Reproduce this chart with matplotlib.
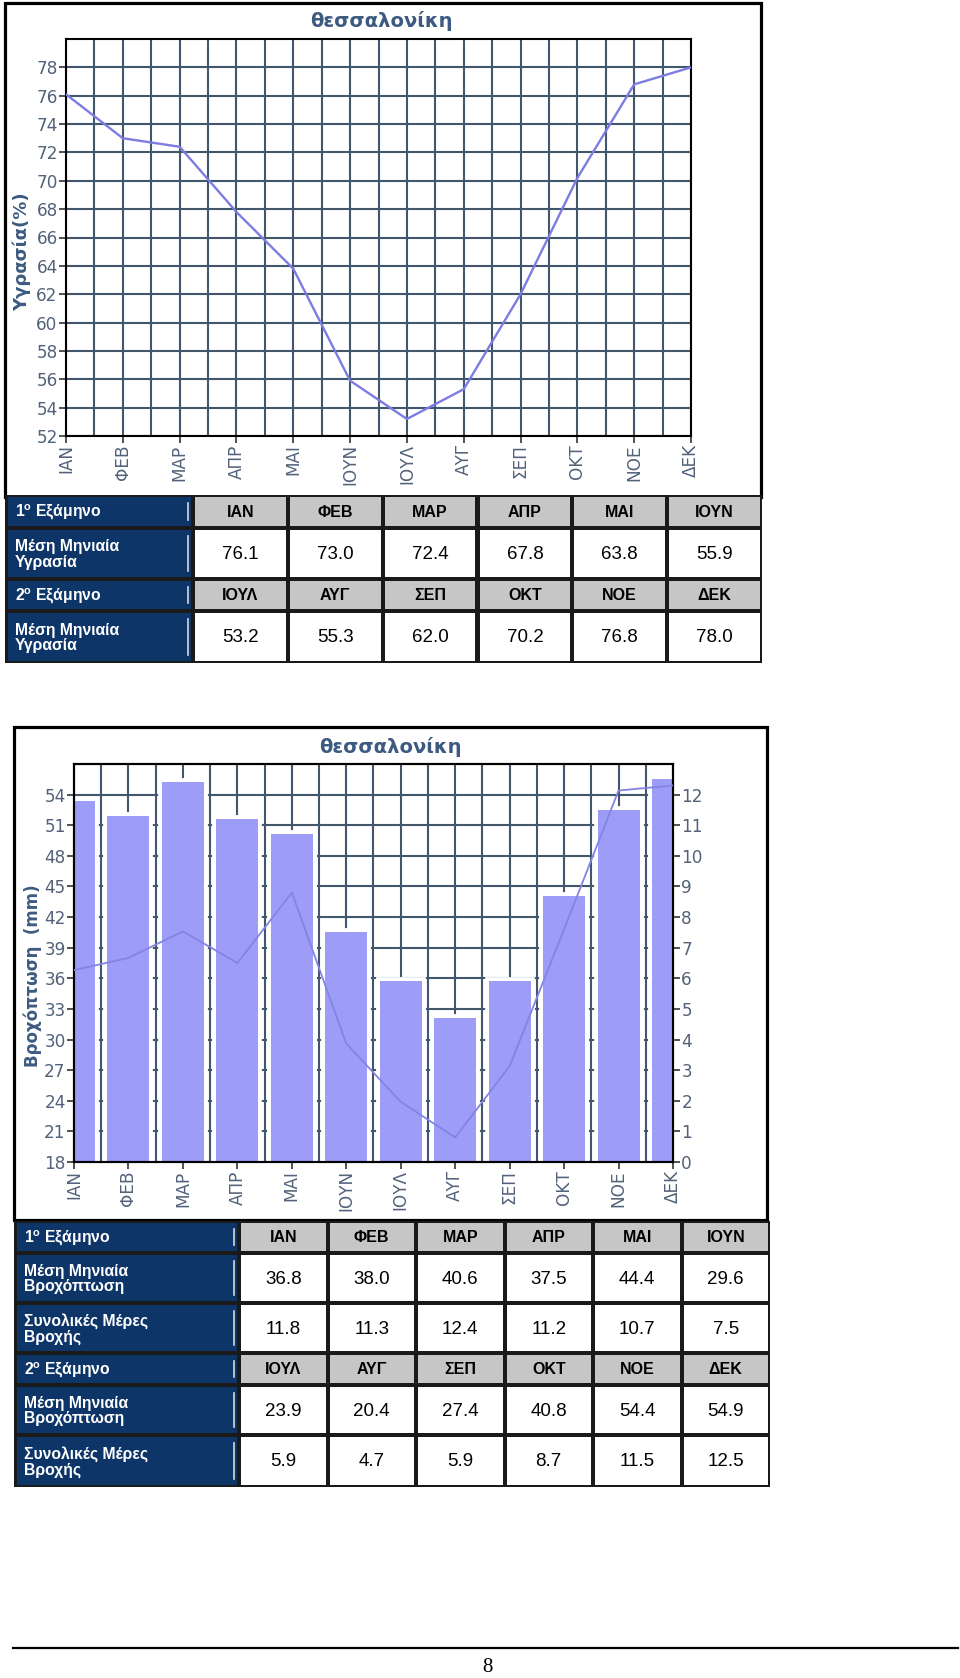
import matplotlib
matplotlib.use("Agg")
import matplotlib.pyplot as plt
from matplotlib.patches import Rectangle
import matplotlib.patheffects as pe
import numpy as np

# ---------------- data ----------------
months = ['ΙΑΝ', 'ΦΕΒ', 'ΜΑΡ', 'ΑΠΡ', 'ΜΑΙ', 'ΙΟΥΝ',
          'ΙΟΥΛ', 'ΑΥΓ', 'ΣΕΠ', 'ΟΚΤ', 'ΝΟΕ', 'ΔΕΚ']
humidity = [76.1, 73.0, 72.4, 67.8, 63.8, 55.9, 53.2, 55.3, 62.0, 70.2, 76.8, 78.0]
rain_mm = [36.8, 38.0, 40.6, 37.5, 44.4, 29.6, 23.9, 20.4, 27.4, 40.8, 54.4, 54.9]
rain_days = [11.8, 11.3, 12.4, 11.2, 10.7, 7.5, 5.9, 4.7, 5.9, 8.7, 11.5, 12.5]
humidity_ticks = list(range(52, 80, 2))
rain_mm_ticks = list(range(18, 57, 3))
rain_days_ticks = list(range(0, 13))
chart_title = 'θεσσαλονίκη'
humidity_label = 'Υγρασία(%)'
rain_label = 'Βροχόπτωση  (mm)'
half_labels = ['1$^\\mathregular{o}$ Εξάμηνο', '2$^\\mathregular{o}$ Εξάμηνο']
row_humidity = 'Μέση Μηνιαία\nΥγρασία'
row_rain = 'Μέση Μηνιαία\nΒροχόπτωση'
row_days = 'Συνολικές Μέρες\nΒροχής'
page_number = '8'

# ---------------- style ----------------
W, H = 960, 1678
NAVY = '#0e3568'
HEAD = '#c6c6c6'
BORDER = '#1a1a1a'
GRID = '#42566c'
TICKTXT = '#52627a'
TITLE = '#3d5a80'
LINE = '#7c7ce2'
BAR = '#9d9df7'
TICK_FONT = dict(family=['DejaVu Sans'], size=12.2)
NARROW = ['Liberation Sans Narrow', 'Liberation Sans', 'DejaVu Sans']
SANS = ['Liberation Sans', 'DejaVu Sans']


def frac(x0, y0, x1, y1):
    return [x0 / W, 1 - y1 / H, (x1 - x0) / W, (y1 - y0) / H]


fig = plt.figure(figsize=(W / 100, H / 100), dpi=100)
fig.patch.set_facecolor('white')

ov = fig.add_axes([0, 0, 1, 1])
ov.set_xlim(0, W)
ov.set_ylim(H, 0)
ov.axis('off')
ov.set_zorder(-1)


def style_x(ax):
    ax.set_xlim(0, 11)
    ax.set_xticks(np.arange(12))
    ax.set_xticklabels(months, rotation=90, color=TICKTXT, **TICK_FONT)
    ax.set_xticks(np.arange(0, 11.01, 0.5), minor=True)
    ax.tick_params(axis='x', which='major', length=5, width=1.2,
                   color='#333333', pad=1)
    ax.tick_params(axis='x', which='minor', length=0)
    ax.grid(True, which='both', axis='x', color=GRID, lw=1.5)


def style_y(ax, yticks):
    ax.set_yticks(yticks)
    ax.set_yticklabels([str(t) for t in yticks], color=TICKTXT, **TICK_FONT)
    ax.tick_params(axis='y', which='major', length=5, width=1.2,
                   color='#333333', pad=1)


def black_spines(ax):
    for s in ax.spines.values():
        s.set_color('black')
        s.set_linewidth(1.5)


# ---------------- chart 1 : humidity ----------------
ov.add_patch(Rectangle((5, 3), 756, 494, fill=False, lw=2.3, ec='black'))
ax1 = fig.add_axes(frac(66, 39, 691, 436))
style_x(ax1)
ax1.set_ylim(52, 80)
style_y(ax1, humidity_ticks)
ax1.grid(True, which='major', axis='y', color=GRID, lw=1.5)
ax1.set_axisbelow(True)
black_spines(ax1)
ax1.plot(np.arange(12), humidity, color=LINE, lw=1.7, zorder=3)
ov.text(381, 21, chart_title, ha='center', va='center', fontsize=14,
        fontweight='bold', color=TITLE, family=['DejaVu Sans'])
ov.text(22, 252, humidity_label, ha='center', va='center', rotation=90,
        fontsize=13, fontweight='bold', color=TITLE, family=['DejaVu Sans'])

# ---------------- chart 2 : rainfall ----------------
ov.add_patch(Rectangle((14, 727), 753, 493, fill=False, lw=2.3, ec='black'))
axd = fig.add_axes(frac(74, 764, 673, 1162))   # days (right scale), bars + grid
style_x(axd)
axd.set_ylim(0, 13)
style_y(axd, rain_days_ticks)
axd.grid(True, which='major', axis='y', color=GRID, lw=1.5)
axd.set_axisbelow(True)
black_spines(axd)
bars = axd.bar(np.arange(12), rain_days, width=0.771, color=BAR, lw=0, zorder=2)
for b in bars:
    b.set_path_effects([pe.withStroke(linewidth=5.6, foreground='white')])

axm = axd.twinx()                               # mm (left scale), line
axm.set_ylim(18, 57)
style_y(axm, rain_mm_ticks)
axd.yaxis.tick_right()
axm.yaxis.tick_left()
black_spines(axm)
axm.plot(np.arange(12), rain_mm, color='#8383e6', lw=1.3, zorder=3)

ov.text(390, 747, chart_title, ha='center', va='center', fontsize=14,
        fontweight='bold', color=TITLE, family=['DejaVu Sans'])
ov.text(33, 976, rain_label, ha='center', va='center', rotation=90,
        fontsize=12, fontweight='bold', color=TITLE, family=['DejaVu Sans'])


# ---------------- tables ----------------
def draw_table(x0, xl, x1, rows_y, rows):
    ov.add_patch(Rectangle((x0, rows_y[0]), x1 - x0, rows_y[-1] - rows_y[0],
                           fc=BORDER, ec='none'))
    b = 2.0
    cw = (x1 - xl) / 6
    for i, (label, cells, is_head) in enumerate(rows):
        yt, yb = rows_y[i] + b, rows_y[i + 1] - b
        h = yb - yt
        ov.add_patch(Rectangle((x0 + b + 1, yt), xl - x0 - 2 * b - 1, h,
                               fc=NAVY, ec='none'))
        ov.plot([xl - 5, xl - 5], [yt + 6, yb - 6], color='#d8d8d8', lw=1.2)
        ov.text(x0 + 10, (yt + yb) / 2 + 1, label, ha='left', va='center',
                color='white', fontsize=11.3, fontweight='bold', family=SANS,
                linespacing=1.05)
        for j, c in enumerate(cells):
            cx = xl + j * cw
            ov.add_patch(Rectangle((cx + b, yt), cw - 2 * b, h,
                                   fc=HEAD if is_head else 'white', ec='none'))
            if is_head:
                ov.text(cx + cw / 2, (yt + yb) / 2 + 1, c, ha='center', va='center',
                        fontsize=11.5, fontweight='bold', color='black', family=NARROW)
            else:
                ov.text(cx + cw / 2, (yt + yb) / 2 + 1, f'{c:.1f}', ha='center',
                        va='center', fontsize=13.5, color='black', family=NARROW)


draw_table(5, 193, 762, [495, 528, 579, 611, 663], [
    (half_labels[0], months[:6], True),
    (row_humidity, humidity[:6], False),
    (half_labels[1], months[6:], True),
    (row_humidity, humidity[6:], False),
])

draw_table(14, 239, 770, [1221, 1253, 1303, 1353, 1385, 1435, 1487], [
    (half_labels[0], months[:6], True),
    (row_rain, rain_mm[:6], False),
    (row_days, rain_days[:6], False),
    (half_labels[1], months[6:], True),
    (row_rain, rain_mm[6:], False),
    (row_days, rain_days[6:], False),
])

# ---------------- page footer ----------------
ov.plot([13, 958], [1648, 1648], color='black', lw=1.6)
ov.text(487, 1667, page_number, ha='center', va='center', fontsize=15,
        family=['Liberation Serif', 'DejaVu Serif'], color='black')

fig.savefig('out.png', dpi=100, facecolor='white')
